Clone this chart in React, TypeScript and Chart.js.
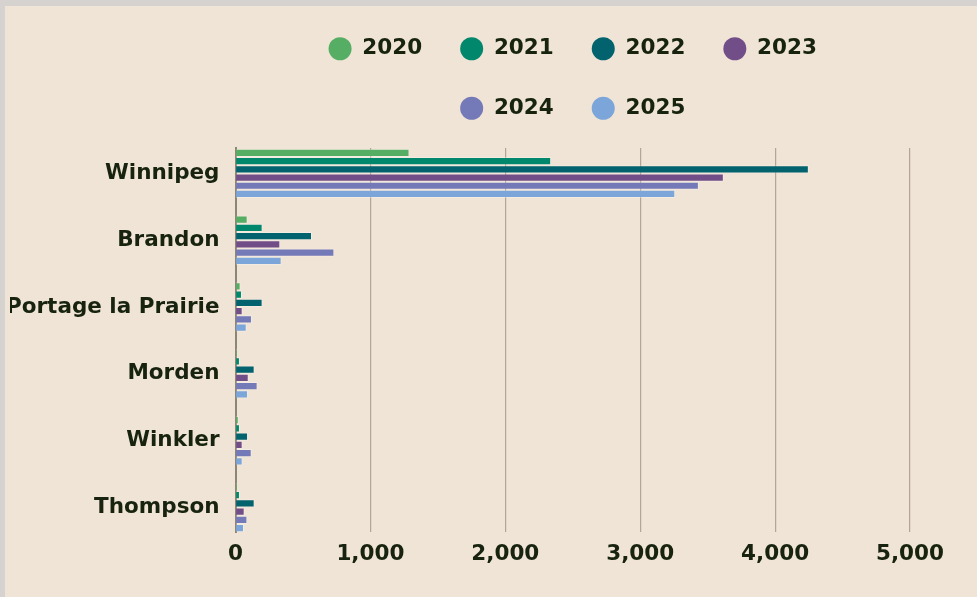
import React, { useEffect, useRef } from "react";
import { Chart, registerables } from "chart.js";

Chart.register(...registerables);

const cities = ["Winnipeg", "Brandon", "Portage la Prairie", "Morden", "Winkler", "Thompson"];
const years = ["2020", "2021", "2022", "2023", "2024", "2025"];
const v2020 = [1290, 90, 38, 13, 24, 13];
const v2021 = [2340, 201, 48, 33, 33, 33];
const v2022 = [4250, 567, 201, 142, 93, 142];
const v2023 = [3620, 332, 53, 98, 53, 68];
const v2024 = [3435, 733, 122, 164, 120, 88];
const v2025 = [3260, 342, 83, 93, 53, 63];
const seriesValues = [v2020, v2021, v2022, v2023, v2024, v2025];
const colors = ["#55ae64", "#00876c", "#02626d", "#724e88", "#7479b8", "#7ca6da"];
const xTickValues = [0, 1000, 2000, 3000, 4000, 5000];

const FONT = "'DejaVu Sans', sans-serif";
const TEXT = "#17230f";

export default function App() {
  const ref = useRef<HTMLCanvasElement | null>(null);

  useEffect(() => {
    document.body.style.margin = "0";
    document.documentElement.style.overflow = "hidden";
    const canvas = ref.current;
    if (!canvas) return;

    const legendSpacer = {
      id: "legendSpacer",
      beforeLayout(chart: any) {
        const lg = chart.legend;
        if (lg && !lg.__patched) {
          const orig = lg.fit.bind(lg);
          lg.fit = function () {
            orig();
            this.height = 148;
          };
          lg.__patched = true;
        }
      },
    };

    const chart = new Chart(canvas, {
      type: "bar",
      data: {
        datasets: years.map((y, k) => ({
          label: y,
          data: seriesValues[k].map((v, i) => ({ x: v, y: i })),
          backgroundColor: colors[k],
          borderColor: "rgba(255,255,255,0.28)",
          borderWidth: 1,
          categoryPercentage: 0.74,
          barPercentage: 1,
        })),
      },
      options: {
        indexAxis: "y",
        animation: false,
        responsive: false,
        maintainAspectRatio: false,
        layout: { padding: { left: 10, right: 67, top: 0, bottom: 21 } },
        plugins: {
          tooltip: { enabled: false },
          legend: {
            position: "top",
            fullSize: false,
            labels: {
              usePointStyle: true,
              pointStyle: "circle",
              pointStyleWidth: 23,
              boxHeight: 16.3,
              padding: 38,
              color: TEXT,
              font: { family: FONT, size: 21.5, weight: "bold" },
              generateLabels: (c: any) =>
                (Chart.defaults.plugins.legend.labels.generateLabels as any)(c).map((l: any) => ({
                  ...l,
                  lineWidth: 0,
                  strokeStyle: "rgba(0,0,0,0)",
                })),
            },
          },
        },
        scales: {
          x: {
            type: "linear",
            position: "bottom",
            min: xTickValues[0],
            max: xTickValues[xTickValues.length - 1],
            afterBuildTicks: (s: any) => {
              s.ticks = xTickValues.map((v) => ({ value: v }));
            },
            grid: { color: "rgba(150,140,125,0.7)", lineWidth: 1.2, drawTicks: false },
            border: { display: false },
            ticks: {
              padding: 9,
              color: TEXT,
              font: { family: FONT, size: 21.5, weight: "bold" },
              callback: (v: any) => Number(v).toLocaleString("en-US"),
            },
          },
          y: {
            type: "linear",
            bounds: "data",
            offset: false,
            reverse: true,
            min: -0.38,
            max: 5.37,
            afterBuildTicks: (s: any) => {
              s.ticks = cities.map((_, i) => ({ value: i }));
            },
            afterFit: (s: any) => {
              s.width = 225.5;
            },
            grid: { display: false, drawTicks: false, offset: false },
            border: { display: true, color: "#8c8676", width: 2 },
            ticks: {
              padding: 16,
              color: TEXT,
              font: { family: FONT, size: 21.5, weight: "bold" },
              callback: (v: any) => cities[v] ?? "",
            },
          },
        },
      },
      plugins: [legendSpacer],
    } as any);

    return () => chart.destroy();
  }, []);

  return (
    <div style={{ position: "fixed", left: 0, top: 0, width: 977, height: 597, background: "#f0e4d6", overflow: "hidden" }}>
      <canvas ref={ref} width={977} height={597} style={{ position: "absolute", left: 0, top: 0, width: 977, height: 597 }} />
      <div style={{ position: "absolute", left: 0, top: 0, width: 977, height: 6, background: "#d6d2cf", zIndex: 1 }} />
      <div style={{ position: "absolute", left: 0, top: 0, width: 5, height: 597, background: "#d6d2cf", zIndex: 1 }} />
    </div>
  );
}
